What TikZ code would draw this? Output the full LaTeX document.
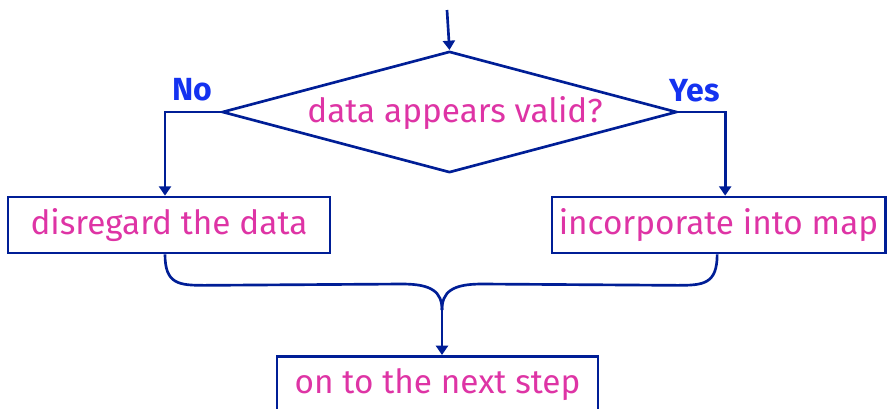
\documentclass[tikz,border=0pt]{standalone}
\usepackage{fontspec}
\setmainfont{Fira Sans}
\usetikzlibrary{shapes.geometric,arrows.meta}
\definecolor{flowblue}{RGB}{0,30,150}
\definecolor{textpink}{RGB}{222,52,165}
\definecolor{answerblue}{RGB}{20,50,240}
\begin{document}
\begin{tikzpicture}[x=0.75pt,y=-0.75pt,
    flow/.style={draw=flowblue,line width=2pt},
    arrow/.style={flow,-{Triangle[length=7pt,width=9pt]}},
    stepbox/.style={flow,rectangle,minimum height=42pt,inner sep=0pt,
      text=textpink,font=\fontsize{25}{28}\selectfont},
    answer/.style={text=answerblue,font=\fontsize{24}{28}\selectfont\bfseries}]
                  \useasboundingbox (0,0) rectangle (889,408);
                  % decision
                  \node [flow,diamond,minimum width=341pt,minimum height=91pt,aspect=3.76,inner sep=0pt]
                        (check) at (449.5,112) {};
                  \node [text=textpink,font=\fontsize{25}{28}\selectfont] (question) at (455,113) {data appears valid?};
                  \node [answer] (no) at (192,90) {No};
                  \node [answer] (yes) at (695,91) {Yes};
                  % outcomes
                  \node [stepbox,minimum width=241.5pt] (skip) at (169,225) {disregard the data};
                  \node [stepbox,minimum width=250pt] (keep) at (718.5,225) {incorporate into map};
                  \node [stepbox,minimum width=240.75pt,anchor=north] (next) at (437.5,355) {on to the next step};
                  \coordinate (entry) at (447,10);
                  \coordinate (join) at (442,310);
                  % arrows
                  \draw [arrow] (entry) -- (check.north);
                  \draw [arrow] (check.west) -| ([xshift=-3pt]skip.north);
                  \draw [arrow] (check.east) -| ([xshift=5pt]keep.north);
                  \draw [flow] ([xshift=-3pt]skip.south) .. controls +(0,30) and +(-26,0) .. ++(40,31) -- (402,284)
                        .. controls +(30,0) and +(0,-18) .. (join);
                  \draw [flow] ([xshift=-1pt]keep.south) .. controls +(0,30) and +(26,0) .. ++(-40,31) -- (482,284)
                        .. controls +(-30,0) and +(0,-18) .. (join);
                  \draw [arrow] (join) -- (join |- next.north);
              \end{tikzpicture}
\end{document}
